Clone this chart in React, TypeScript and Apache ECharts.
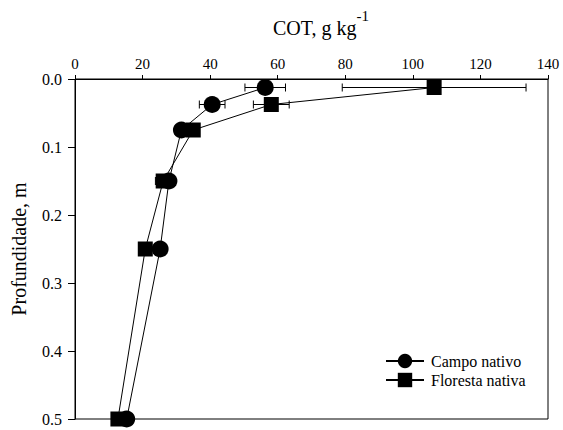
import React, { useEffect, useRef } from "react";
import * as echarts from "echarts";

const depths = [0.0125, 0.0375, 0.075, 0.15, 0.25, 0.5];
const campoValues = [56.3, 40.6, 31.5, 27.8, 25.2, 15.3];
const florestaValues = [106.3, 58.1, 35.0, 26.1, 20.8, 12.7];
const campoErr = [6.0, 3.8, 0.5, 0.5, 0.5, 0.5];
const florestaErr = [27.2, 5.3, 0.5, 2.3, 0.5, 0.5];
const xTicks = { min: 0, max: 140, interval: 20 };
const yTicks = { min: 0, max: 0.5, interval: 0.1 };

const FONT = "Liberation Serif";

function errorSeries(name: string, values: number[], errs: number[]) {
  return {
    name: name + "-err",
    type: "custom",
    z: 1,
    silent: true,
    encode: { x: 0, y: 1 },
    data: values.map((v, i) => [v, depths[i], errs[i]]),
    renderItem: (params: any, api: any) => {
      const x = api.value(0);
      const y = api.value(1);
      const e = api.value(2);
      const l = api.coord([x - e, y]);
      const r = api.coord([x + e, y]);
      const h = 4;
      const st = { stroke: "#000", lineWidth: 1 };
      return {
        type: "group",
        children: [
          { type: "line", shape: { x1: l[0], y1: l[1], x2: r[0], y2: r[1] }, style: st },
          { type: "line", shape: { x1: l[0], y1: l[1] - h, x2: l[0], y2: l[1] + h }, style: st },
          { type: "line", shape: { x1: r[0], y1: r[1] - h, x2: r[0], y2: r[1] + h }, style: st },
        ],
      };
    },
  };
}

export default function App() {
  const ref = useRef<HTMLDivElement>(null);
  useEffect(() => {
    document.body.style.margin = "0";
    const chart = echarts.init(ref.current!, undefined, { renderer: "svg" });
    chart.setOption({
      animation: false,
      backgroundColor: "#fff",
      textStyle: { fontFamily: FONT, color: "#000" },
      title: {
        text: "{a|COT, g kg}{b|-1}",
        left: 316,
        textAlign: "center",
        top: 3,
        textStyle: {
          fontFamily: FONT,
          fontWeight: "normal",
          rich: {
            a: { fontFamily: FONT, fontWeight: "normal", fontSize: 20, color: "#000", verticalAlign: "bottom", lineHeight: 30 },
            b: { fontFamily: FONT, fontWeight: "normal", fontSize: 15, color: "#000", verticalAlign: "top", lineHeight: 30, padding: [0, 0, 12, 0] },
          },
        },
      },
      grid: {
        left: 75,
        right: 15,
        top: 79,
        bottom: 11,
        show: true,
        borderColor: "#000",
        borderWidth: 1,
        backgroundColor: "transparent",
      },
      legend: {
        orient: "vertical",
        left: 385,
        top: 352,
        padding: 0,
        itemWidth: 38,
        itemHeight: 18,
        itemGap: 1,
        textStyle: { fontFamily: FONT, fontSize: 16, lineHeight: 18, color: "#000", padding: [0, 0, 0, 2] },
        data: ["Campo nativo", "Floresta nativa"],
      },
      xAxis: {
        type: "value",
        position: "top",
        min: xTicks.min,
        max: xTicks.max,
        interval: xTicks.interval,
        axisLine: { show: true, lineStyle: { color: "#000", width: 1 } },
        axisTick: { show: true, inside: false, length: 4, lineStyle: { color: "#000" } },
        axisLabel: { fontFamily: FONT, fontSize: 15, color: "#000", margin: 8 },
        splitLine: { show: false },
      },
      yAxis: {
        type: "value",
        inverse: true,
        min: yTicks.min,
        max: yTicks.max,
        interval: yTicks.interval,
        name: "Profundidade, m",
        nameLocation: "middle",
        nameGap: 46,
        nameTextStyle: { fontFamily: FONT, fontSize: 20, color: "#000" },
        axisLine: { show: true, lineStyle: { color: "#000", width: 1 } },
        axisTick: { show: true, inside: false, length: 7, lineStyle: { color: "#000" } },
        axisLabel: {
          fontFamily: FONT,
          fontSize: 16,
          color: "#000",
          margin: 13,
          formatter: (v: number) => v.toFixed(1),
        },
        splitLine: { show: false },
      },
      series: [
        errorSeries("Campo nativo", campoValues, campoErr),
        errorSeries("Floresta nativa", florestaValues, florestaErr),
        {
          name: "Campo nativo",
          type: "line",
          z: 3,
          data: campoValues.map((v, i) => [v, depths[i]]),
          symbol: "circle",
          symbolSize: 17,
          itemStyle: { color: "#000" },
          lineStyle: { color: "#000", width: 1 },
        },
        {
          name: "Floresta nativa",
          type: "line",
          z: 3,
          data: florestaValues.map((v, i) => [v, depths[i]]),
          symbol: "rect",
          symbolSize: 15,
          itemStyle: { color: "#000" },
          lineStyle: { color: "#000", width: 1 },
        },
      ],
    });
    return () => chart.dispose();
  }, []);
  return <div ref={ref} style={{ width: 563, height: 430 }} />;
}
